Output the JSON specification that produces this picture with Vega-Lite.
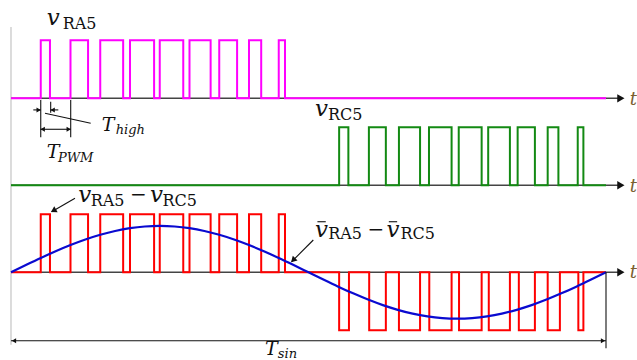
{
  "$schema": "https://vega.github.io/schema/vega-lite/v6.json",
  "width": 637,
  "height": 360,
  "autosize": "none",
  "padding": 0,
  "background": "white",
  "config": {"view": {"stroke": null}},
  "datasets": {
    "waves": [
      {"sig": "RA5", "t": 0, "v": 3}, {"sig": "RA5", "t": 1, "v": 4}, {"sig": "RA5", "t": 1.31, "v": 3},
      {"sig": "RA5", "t": 2, "v": 4}, {"sig": "RA5", "t": 2.59, "v": 3}, {"sig": "RA5", "t": 3, "v": 4},
      {"sig": "RA5", "t": 3.77, "v": 3}, {"sig": "RA5", "t": 4, "v": 4}, {"sig": "RA5", "t": 4.81, "v": 3},
      {"sig": "RA5", "t": 5, "v": 4}, {"sig": "RA5", "t": 5.79, "v": 3}, {"sig": "RA5", "t": 6, "v": 4},
      {"sig": "RA5", "t": 6.71, "v": 3}, {"sig": "RA5", "t": 7, "v": 4}, {"sig": "RA5", "t": 7.6, "v": 3},
      {"sig": "RA5", "t": 8, "v": 4}, {"sig": "RA5", "t": 8.41, "v": 3}, {"sig": "RA5", "t": 9, "v": 4},
      {"sig": "RA5", "t": 9.21, "v": 3}, {"sig": "RA5", "t": 20, "v": 3},
      {"sig": "RC5", "t": 0, "v": 1.5}, {"sig": "RC5", "t": 11.03, "v": 2.5}, {"sig": "RC5", "t": 11.34, "v": 1.5},
      {"sig": "RC5", "t": 12.03, "v": 2.5}, {"sig": "RC5", "t": 12.6, "v": 1.5}, {"sig": "RC5", "t": 13.04, "v": 2.5},
      {"sig": "RC5", "t": 13.75, "v": 1.5}, {"sig": "RC5", "t": 14.05, "v": 2.5}, {"sig": "RC5", "t": 14.81, "v": 1.5},
      {"sig": "RC5", "t": 15.05, "v": 2.5}, {"sig": "RC5", "t": 15.82, "v": 1.5}, {"sig": "RC5", "t": 16.04, "v": 2.5},
      {"sig": "RC5", "t": 16.77, "v": 1.5}, {"sig": "RC5", "t": 17.03, "v": 2.5}, {"sig": "RC5", "t": 17.61, "v": 1.5},
      {"sig": "RC5", "t": 18.04, "v": 2.5}, {"sig": "RC5", "t": 18.4, "v": 1.5}, {"sig": "RC5", "t": 19.05, "v": 2.5},
      {"sig": "RC5", "t": 19.24, "v": 1.5}, {"sig": "RC5", "t": 20, "v": 1.5},
      {"sig": "DIFF", "t": 0, "v": 0}, {"sig": "DIFF", "t": 1, "v": 1}, {"sig": "DIFF", "t": 1.31, "v": 0},
      {"sig": "DIFF", "t": 2, "v": 1}, {"sig": "DIFF", "t": 2.59, "v": 0}, {"sig": "DIFF", "t": 3, "v": 1},
      {"sig": "DIFF", "t": 3.77, "v": 0}, {"sig": "DIFF", "t": 4, "v": 1}, {"sig": "DIFF", "t": 4.81, "v": 0},
      {"sig": "DIFF", "t": 5, "v": 1}, {"sig": "DIFF", "t": 5.79, "v": 0}, {"sig": "DIFF", "t": 6, "v": 1},
      {"sig": "DIFF", "t": 6.71, "v": 0}, {"sig": "DIFF", "t": 7, "v": 1}, {"sig": "DIFF", "t": 7.6, "v": 0},
      {"sig": "DIFF", "t": 8, "v": 1}, {"sig": "DIFF", "t": 8.41, "v": 0}, {"sig": "DIFF", "t": 9, "v": 1},
      {"sig": "DIFF", "t": 9.21, "v": 0},
      {"sig": "DIFF", "t": 11.03, "v": -1}, {"sig": "DIFF", "t": 11.36, "v": 0}, {"sig": "DIFF", "t": 12.04, "v": -1},
      {"sig": "DIFF", "t": 12.6, "v": 0}, {"sig": "DIFF", "t": 13.04, "v": -1}, {"sig": "DIFF", "t": 13.75, "v": 0},
      {"sig": "DIFF", "t": 14.06, "v": -1}, {"sig": "DIFF", "t": 14.81, "v": 0}, {"sig": "DIFF", "t": 15.06, "v": -1},
      {"sig": "DIFF", "t": 15.82, "v": 0}, {"sig": "DIFF", "t": 16.06, "v": -1}, {"sig": "DIFF", "t": 16.77, "v": 0},
      {"sig": "DIFF", "t": 17.07, "v": -1}, {"sig": "DIFF", "t": 17.61, "v": 0}, {"sig": "DIFF", "t": 18.04, "v": -1},
      {"sig": "DIFF", "t": 18.45, "v": 0}, {"sig": "DIFF", "t": 19.07, "v": -1}, {"sig": "DIFF", "t": 19.24, "v": 0},
      {"sig": "DIFF", "t": 20, "v": 0}
    ],
    "sine": [
      {"t": 0, "v": 0}, {"t": 0.5, "v": 0.125}, {"t": 1, "v": 0.247}, {"t": 1.5, "v": 0.363}, {"t": 2, "v": 0.47},
      {"t": 2.5, "v": 0.566}, {"t": 3, "v": 0.647}, {"t": 3.5, "v": 0.713}, {"t": 4, "v": 0.761}, {"t": 4.5, "v": 0.79},
      {"t": 5, "v": 0.8}, {"t": 5.5, "v": 0.79}, {"t": 6, "v": 0.761}, {"t": 6.5, "v": 0.713}, {"t": 7, "v": 0.647},
      {"t": 7.5, "v": 0.566}, {"t": 8, "v": 0.47}, {"t": 8.5, "v": 0.363}, {"t": 9, "v": 0.247}, {"t": 9.5, "v": 0.125},
      {"t": 10, "v": 0}, {"t": 10.5, "v": -0.125}, {"t": 11, "v": -0.247}, {"t": 11.5, "v": -0.363}, {"t": 12, "v": -0.47},
      {"t": 12.5, "v": -0.566}, {"t": 13, "v": -0.647}, {"t": 13.5, "v": -0.713}, {"t": 14, "v": -0.761}, {"t": 14.5, "v": -0.79},
      {"t": 15, "v": -0.8}, {"t": 15.5, "v": -0.79}, {"t": 16, "v": -0.761}, {"t": 16.5, "v": -0.713}, {"t": 17, "v": -0.647},
      {"t": 17.5, "v": -0.566}, {"t": 18, "v": -0.47}, {"t": 18.5, "v": -0.363}, {"t": 19, "v": -0.247}, {"t": 19.5, "v": -0.125},
      {"t": 20, "v": 0}
    ],
    "axes": [
      {"t": 0, "v": 3, "t2": 20.5, "v2": 3},
      {"t": 0, "v": 1.5, "t2": 20.5, "v2": 1.5},
      {"t": 0, "v": 0, "t2": 20.5, "v2": 0}
    ],
    "frame": [
      {"t": 0, "v": 4.23, "t2": 0, "v2": -1.25}
    ],
    "segs": [
      {"name": "tick1", "t": 1.0, "v": 2.97, "t2": 1.0, "v2": 2.33},
      {"name": "tick2", "t": 1.334, "v": 2.94, "t2": 1.334, "v2": 2.75},
      {"name": "tick3", "t": 2.007, "v": 2.97, "t2": 2.007, "v2": 2.33},
      {"name": "thigh_l", "t": 0.75, "v": 2.8, "t2": 1.0, "v2": 2.8},
      {"name": "thigh_r", "t": 1.334, "v": 2.8, "t2": 1.59, "v2": 2.8},
      {"name": "thigh_lead", "t": 1.143, "v": 2.741, "t2": 2.679, "v2": 2.569},
      {"name": "tpwm", "t": 1.0, "v": 2.466, "t2": 2.007, "v2": 2.466},
      {"name": "lead1", "t": 2.151, "v": 1.276, "t2": 1.368, "v2": 1.045},
      {"name": "lead2", "t": 10.161, "v": 0.557, "t2": 9.435, "v2": 0.183},
      {"name": "tsin", "t": 0, "v": -1.18, "t2": 20, "v2": -1.18},
      {"name": "tsin_end", "t": 20, "v": 0, "t2": 20, "v2": -1.31},
      {"name": "bar1", "t": 10.3, "v": 0.872, "t2": 10.58, "v2": 0.872},
      {"name": "bar2", "t": 12.7, "v": 0.872, "t2": 12.98, "v2": 0.872}
    ],
    "heads": [
      {"dir": "axis", "t": 20.5, "v": 3}, {"dir": "axis", "t": 20.5, "v": 1.5}, {"dir": "axis", "t": 20.5, "v": 0},
      {"dir": "right", "t": 0.93, "v": 2.8}, {"dir": "right", "t": 1.94, "v": 2.466}, {"dir": "right", "t": 19.9, "v": -1.18},
      {"dir": "left", "t": 1.4, "v": 2.8}, {"dir": "left", "t": 1.065, "v": 2.466}, {"dir": "left", "t": 0.1, "v": -1.18},
      {"dir": "sw1", "t": 1.455, "v": 1.071}, {"dir": "sw2", "t": 9.506, "v": 0.219}
    ],
    "vmain": [
      {"txt": "v", "t": 1.2, "v": 4.264}, {"txt": "v", "t": 10.22, "v": 2.7},
      {"txt": "v", "t": 2.262, "v": 1.217}, {"txt": "v", "t": 4.672, "v": 1.217},
      {"txt": "v", "t": 10.218, "v": 0.614}, {"txt": "v", "t": 12.62, "v": 0.614}
    ],
    "subs": [
      {"txt": "RA5", "t": 1.738, "v": 4.19}, {"txt": "RC5", "t": 10.655, "v": 2.626},
      {"txt": "RA5", "t": 2.68, "v": 1.143}, {"txt": "RC5", "t": 5.09, "v": 1.143},
      {"txt": "RA5", "t": 10.66, "v": 0.569}, {"txt": "RC5", "t": 13.09, "v": 0.569}
    ],
    "minus": [
      {"txt": "−", "t": 4.0, "v": 1.23}, {"txt": "−", "t": 11.98, "v": 0.627}
    ],
    "tmain": [
      {"txt": "T", "t": 3.049, "v": 2.436}, {"txt": "T", "t": 1.2, "v": 1.966}, {"txt": "T", "t": 8.538, "v": -1.426}
    ],
    "tsub": [
      {"txt": "high", "t": 3.52, "v": 2.384}, {"txt": "PWM", "t": 1.58, "v": 1.907}, {"txt": "sin", "t": 8.97, "v": -1.486}
    ],
    "tlabel": [
      {"txt": "t", "t": 20.8, "v": 2.88}, {"txt": "t", "t": 20.8, "v": 1.385}, {"txt": "t", "t": 20.8, "v": -0.098}
    ]
  },
  "encoding": {
    "x": {"field": "t", "type": "quantitative", "scale": {"domain": [-0.3697, 21.042], "nice": false, "zero": false}, "axis": null},
    "y": {"field": "v", "type": "quantitative", "scale": {"domain": [-1.512, 4.695], "nice": false, "zero": false}, "axis": null}
  },
  "layer": [
    {"data": {"name": "frame"}, "mark": {"type": "rule", "color": "#c4c4c4", "strokeWidth": 1.2},
     "encoding": {"x2": {"field": "t2"}, "y2": {"field": "v2"}}},
    {"data": {"name": "axes"}, "mark": {"type": "rule", "color": "#444444", "strokeWidth": 1.6},
     "encoding": {"x2": {"field": "t2"}, "y2": {"field": "v2"}}},
    {"data": {"name": "heads"}, "transform": [{"filter": "datum.dir == 'axis'"}],
     "mark": {"type": "point", "shape": "triangle-right", "filled": true, "color": "#111111", "size": 70, "opacity": 1}},
    {"data": {"name": "waves"}, "transform": [{"filter": "datum.sig == 'RA5'"}],
     "mark": {"type": "line", "interpolate": "step-after", "color": "#ff00ff", "strokeWidth": 2}},
    {"data": {"name": "waves"}, "transform": [{"filter": "datum.sig == 'RC5'"}],
     "mark": {"type": "line", "interpolate": "step-after", "color": "#138a13", "strokeWidth": 2}},
    {"data": {"name": "waves"}, "transform": [{"filter": "datum.sig == 'DIFF'"}],
     "mark": {"type": "line", "interpolate": "step-after", "color": "#ff0000", "strokeWidth": 2}},
    {"data": {"name": "sine"},
     "mark": {"type": "line", "interpolate": "monotone", "color": "#0a0ad0", "strokeWidth": 2.2}},
    {"data": {"name": "segs"}, "mark": {"type": "rule", "color": "#111111", "strokeWidth": 1.1},
     "encoding": {"x2": {"field": "t2"}, "y2": {"field": "v2"}}},
    {"data": {"name": "heads"}, "transform": [{"filter": "datum.dir == 'right'"}],
     "mark": {"type": "point", "shape": "triangle-right", "filled": true, "color": "#111111", "size": 25, "opacity": 1}},
    {"data": {"name": "heads"}, "transform": [{"filter": "datum.dir == 'left'"}],
     "mark": {"type": "point", "shape": "triangle-left", "filled": true, "color": "#111111", "size": 25, "opacity": 1}},
    {"data": {"name": "heads"}, "transform": [{"filter": "datum.dir == 'sw1'"}],
     "mark": {"type": "point", "shape": "triangle", "angle": 240, "filled": true, "color": "#111111", "size": 45, "opacity": 1}},
    {"data": {"name": "heads"}, "transform": [{"filter": "datum.dir == 'sw2'"}],
     "mark": {"type": "point", "shape": "triangle", "angle": 225, "filled": true, "color": "#111111", "size": 45, "opacity": 1}},
    {"data": {"name": "vmain"},
     "mark": {"type": "text", "font": "DejaVu Serif", "fontStyle": "italic", "fontSize": 23, "align": "left", "baseline": "alphabetic", "color": "#111111"},
     "encoding": {"text": {"field": "txt"}}},
    {"data": {"name": "subs"},
     "mark": {"type": "text", "font": "DejaVu Serif", "fontSize": 16, "align": "left", "baseline": "alphabetic", "color": "#111111"},
     "encoding": {"text": {"field": "txt"}}},
    {"data": {"name": "minus"},
     "mark": {"type": "text", "font": "DejaVu Serif", "fontSize": 20, "align": "left", "baseline": "alphabetic", "color": "#111111"},
     "encoding": {"text": {"field": "txt"}}},
    {"data": {"name": "tmain"},
     "mark": {"type": "text", "font": "DejaVu Serif", "fontStyle": "italic", "fontSize": 19, "align": "left", "baseline": "alphabetic", "color": "#111111"},
     "encoding": {"text": {"field": "txt"}}},
    {"data": {"name": "tsub"},
     "mark": {"type": "text", "font": "DejaVu Serif", "fontStyle": "italic", "fontSize": 13, "align": "left", "baseline": "alphabetic", "color": "#111111"},
     "encoding": {"text": {"field": "txt"}}},
    {"data": {"name": "tlabel"},
     "mark": {"type": "text", "font": "DejaVu Serif", "fontStyle": "italic", "fontSize": 18, "align": "left", "baseline": "alphabetic", "color": "#7a6030"},
     "encoding": {"text": {"field": "txt"}}}
  ]
}
